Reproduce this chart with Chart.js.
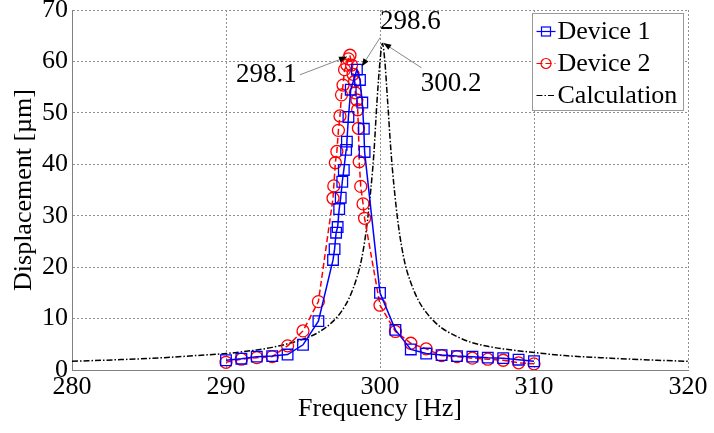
<!DOCTYPE html>
<html>
<head>
<meta charset="utf-8">
<script src="https://cdn.jsdelivr.net/npm/chart.js@4.4.0/dist/chart.umd.min.js"></script>
<style>
  html, body { margin: 0; padding: 0; background: #fff; }
  .wrap { width: 714px; height: 433px; position: relative; }
</style>
</head>
<body>
<div class="wrap"><canvas id="chart"></canvas></div>
<script>
// Device 1 (measured)
const freq1 = [290, 291, 292, 293, 294, 295, 296,
  296.95, 297.05, 297.15, 297.25, 297.35, 297.45, 297.55, 297.65, 297.8, 297.85, 297.95,
  298.1, 298.5, 298.7, 298.85, 298.95, 299.0,
  300, 301, 302, 303, 304, 305, 306, 307, 308, 309, 310];
const dev1 = [1.9, 2.2, 2.6, 2.7, 3.0, 4.9, 9.5,
  21.4, 23.5, 26.7, 27.8, 31.3, 33.5, 36.6, 38.9, 42.8, 44.4, 49.2,
  54.5, 58.4, 56.4, 52.0, 46.9, 42.4,
  15.0, 7.8, 4.0, 3.2, 2.9, 2.7, 2.6, 2.4, 2.3, 2.0, 1.7];

// Device 2 (measured)
const freq2 = [290, 291, 292, 293, 294, 295, 296,
  296.95, 297.0, 297.1, 297.2, 297.3, 297.4, 297.5, 297.6, 297.7, 297.85, 297.95, 298.05,
  298.15, 298.25, 298.35, 298.4, 298.5, 298.55, 298.6, 298.65, 298.75, 298.9, 299.0,
  300, 301, 302, 303, 304, 305, 306, 307, 308, 309, 310];
const dev2 = [1.5, 2.1, 2.4, 2.6, 4.7, 7.6, 13.3,
  33.4, 35.8, 40.3, 42.5, 46.6, 49.4, 53.5, 55.4, 58.4, 59.3, 60.5, 61.2,
  59.3, 57.5, 56.1, 53.9, 52.5, 50.6, 47.0, 40.5, 35.7, 32.3, 29.5,
  12.6, 7.5, 5.2, 4.1, 2.8, 2.6, 2.3, 2.1, 1.9, 1.4, 1.2];

// Calculation curve
const calcFreq = [280, 283, 286, 288, 290, 292, 293, 294, 295, 296, 297, 297.5, 298, 298.5, 298.8,
  299.1, 299.4, 299.6, 299.8, 300.0, 300.15, 300.3, 300.5, 300.7, 300.9, 301.2, 301.6,
  302, 302.5, 303, 303.5, 304, 305, 306, 307, 308, 310, 312, 315, 318, 320];
const calcVal = [1.7, 2.0, 2.4, 2.8, 3.2, 3.9, 4.4, 5.1, 6.0, 7.3, 9.6, 11.4, 14.0, 18.0, 21.5,
  27, 35, 42, 52, 60, 63.5, 60.5, 52, 43, 36, 28, 21,
  17, 13.5, 11.2, 9.5, 8.2, 6.5, 5.3, 4.6, 4.1, 3.4, 2.8, 2.3, 1.9, 1.7];

// peak annotations: label, text anchor, arrow tail, arrow tip (data units)
const notes = [
  { text: '298.1', align: 'right', tx: 294.6, ty: 57.4, from: [294.8, 57.4], to: [297.86, 60.9] },
  { text: '298.6', align: 'left', tx: 300.0, ty: 67.6, from: [300.0, 64.6], to: [298.81, 59.0] },
  { text: '300.2', align: 'left', tx: 302.65, ty: 55.7, from: [302.7, 58.75], to: [300.21, 63.6] }
];

const FONT = 'Liberation Serif, Times New Roman, serif';

function pts(xs, ys) {
  return xs.map((x, i) => ({ x: x, y: ys[i] }));
}

function arrow(ctx, x1, y1, x2, y2) {
  ctx.strokeStyle = '#888';
  ctx.lineWidth = 1;
  ctx.beginPath();
  ctx.moveTo(x1, y1);
  ctx.lineTo(x2, y2);
  ctx.stroke();
  const a = Math.atan2(y2 - y1, x2 - x1);
  const L = 8, W = 3;
  ctx.fillStyle = '#000';
  ctx.beginPath();
  ctx.moveTo(x2, y2);
  ctx.lineTo(x2 - L * Math.cos(a) + W * Math.sin(a), y2 - L * Math.sin(a) - W * Math.cos(a));
  ctx.lineTo(x2 - L * Math.cos(a) - W * Math.sin(a), y2 - L * Math.sin(a) + W * Math.cos(a));
  ctx.closePath();
  ctx.fill();
}

const notesPlugin = {
  id: 'peakNotes',
  afterDatasetsDraw(chart) {
    const { ctx, scales: { x, y } } = chart;
    ctx.save();
    notes.forEach(n => {
      arrow(ctx, x.getPixelForValue(n.from[0]), y.getPixelForValue(n.from[1]),
        x.getPixelForValue(n.to[0]), y.getPixelForValue(n.to[1]));
      ctx.fillStyle = '#000';
      ctx.font = '27px ' + FONT;
      ctx.textAlign = n.align;
      ctx.textBaseline = 'middle';
      ctx.fillText(n.text, x.getPixelForValue(n.tx), y.getPixelForValue(n.ty));
    });
    ctx.restore();
  }
};

const legendPlugin = {
  id: 'boxLegend',
  afterDraw(chart) {
    const ctx = chart.ctx;
    const area = chart.chartArea;
    const w = 151, h = 97;
    const left = area.right - w - 4.5, top = area.top + 3.5;
    ctx.save();
    ctx.fillStyle = '#fff';
    ctx.fillRect(left, top, w, h);
    ctx.strokeStyle = '#999';
    ctx.lineWidth = 1;
    ctx.strokeRect(left, top, w, h);
    const items = chart.data.datasets;
    items.forEach((ds, i) => {
      const cy = top + 18 + i * 32;
      const x0 = left + 4, x1 = left + 23, cx = (x0 + x1) / 2;
      ctx.strokeStyle = ds.borderColor;
      ctx.lineWidth = 1.2;
      ctx.setLineDash(ds.borderDash || []);
      ctx.beginPath();
      ctx.moveTo(x0, cy);
      ctx.lineTo(x1, cy);
      ctx.stroke();
      ctx.setLineDash([]);
      if (ds.pointStyle === 'rect') {
        ctx.strokeRect(cx - 4.5, cy - 4.5, 9, 9);
      } else if (ds.pointStyle === 'circle') {
        ctx.beginPath();
        ctx.arc(cx, cy, 5, 0, Math.PI * 2);
        ctx.stroke();
      }
      ctx.fillStyle = '#000';
      ctx.font = '26px ' + FONT;
      ctx.textAlign = 'left';
      ctx.textBaseline = 'middle';
      ctx.fillText(ds.label, left + 25, cy + 1);
    });
    ctx.restore();
  }
};

const gridOpts = { color: '#909090', lineWidth: 1, drawTicks: false };
const borderOpts = { display: true, color: '#808080', width: 1, dash: [2, 2] };

new Chart(document.getElementById('chart'), {
  type: 'line',
  data: {
    datasets: [
      {
        label: 'Device 1',
        data: pts(freq1, dev1),
        borderColor: '#0000ff',
        borderWidth: 1.5,
        pointStyle: 'rect',
        pointRadius: 7.5,
        pointBorderWidth: 1.3,
        pointBorderColor: '#0000ff',
        pointBackgroundColor: 'rgba(0,0,0,0)',
        tension: 0
      },
      {
        label: 'Device 2',
        data: pts(freq2, dev2),
        borderColor: '#ff0000',
        borderWidth: 1.5,
        borderDash: [6, 3],
        pointStyle: 'circle',
        pointRadius: 6,
        pointBorderWidth: 1.3,
        pointBorderColor: '#ff0000',
        pointBackgroundColor: 'rgba(0,0,0,0)',
        tension: 0
      },
      {
        label: 'Calculation',
        data: pts(calcFreq, calcVal),
        borderColor: '#000000',
        borderWidth: 1.5,
        borderDash: [6, 2, 1.5, 2],
        pointRadius: 0,
        cubicInterpolationMode: 'monotone'
      }
    ]
  },
  options: {
    responsive: true,
    maintainAspectRatio: false,
    animation: false,
    layout: { padding: { top: 10, right: 26, left: 0, bottom: 0 } },
    plugins: {
      legend: { display: false },
      tooltip: { enabled: false }
    },
    scales: {
      x: {
        type: 'linear',
        min: 280,
        max: 320,
        grid: gridOpts,
        border: borderOpts,
        ticks: { stepSize: 10, color: '#000', padding: 2, font: { family: FONT, size: 26 } },
        title: { display: true, text: 'Frequency [Hz]', color: '#000', padding: { top: 0, bottom: 8 }, font: { family: FONT, size: 26 } },
        afterFit(scale) {
          scale.height = 63;
          scale.paddingLeft = 0;
          scale.paddingRight = 0;
        }
      },
      y: {
        type: 'linear',
        min: 0,
        max: 70,
        grid: gridOpts,
        border: borderOpts,
        ticks: { stepSize: 10, color: '#000', padding: 4, font: { family: FONT, size: 26 } },
        title: { display: true, text: 'Displacement [µm]', color: '#000', padding: { top: 9, bottom: 0 }, font: { family: FONT, size: 26 } },
        afterFit(scale) {
          scale.width = 72;
          scale.paddingTop = 0;
          scale.paddingBottom = 0;
        }
      }
    }
  },
  plugins: [notesPlugin, legendPlugin]
});
</script>
</body>
</html>
